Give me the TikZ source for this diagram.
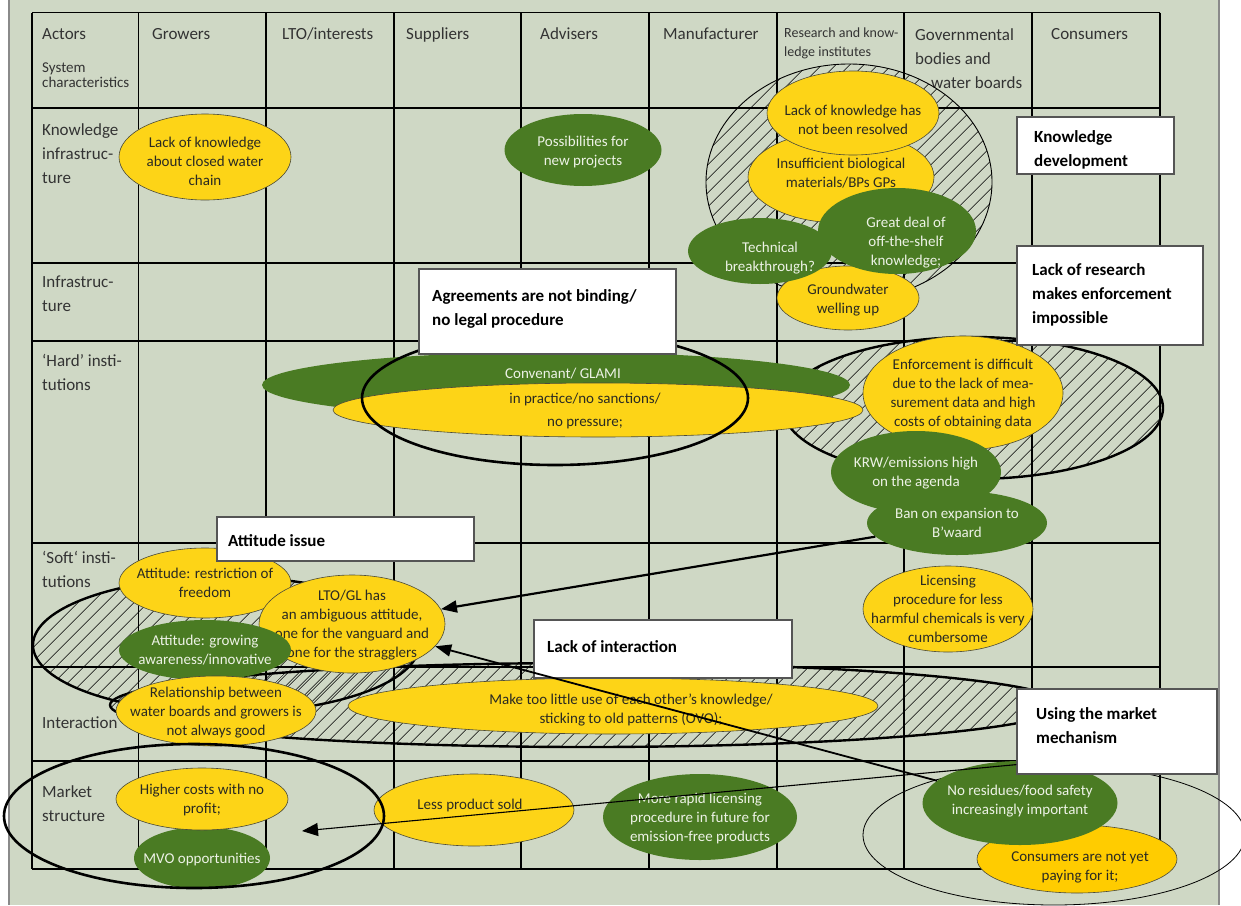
\documentclass[tikz,border=0pt]{standalone}
\usepackage{fontspec}
\setmainfont{Carlito}
\usetikzlibrary{shapes.geometric,patterns.meta,arrows.meta}
\definecolor{bgc}{HTML}{CFD8C5}
\definecolor{grnc}{HTML}{4A7B23}
\definecolor{yelc}{HTML}{FDD417}
\definecolor{yeltwo}{HTML}{FFCC00}
\definecolor{gtext}{HTML}{EDF2E6}
\definecolor{ytext}{HTML}{2A2A22}
\definecolor{hdrc}{HTML}{333333}
\definecolor{boxc}{HTML}{555555}
\definecolor{outc}{HTML}{4A4A3A}
\definecolor{bordc}{HTML}{8A8A8A}
\newcommand{\mlines}[1]{\begin{tabular}[t]{@{}l@{}}#1\end{tabular}}
\begin{document}
\begin{tikzpicture}[x=1pt,y=-1pt,
  hdr/.style={anchor=base west, inner sep=0pt, text=hdrc, font=\fontsize{17}{24}\selectfont},
  ell/.style={ellipse, inner sep=-30pt, align=center, text depth=0pt, font=\fontsize{15}{19}\selectfont},
  yel/.style={ell, fill=yelc, draw=outc, line width=0.6pt, text=ytext},
  grn/.style={ell, fill=grnc, text=gtext},
  ytxt/.style={inner sep=0pt, align=center, text depth=0pt, text=ytext, font=\fontsize{15}{19}\selectfont},
  gtxt/.style={inner sep=0pt, align=center, text depth=0pt, text=gtext, font=\fontsize{15}{19}\selectfont},
  hatchell/.style={ellipse, inner sep=0pt, pattern={Lines[angle=45,distance=10.5pt,line width=0.7pt]}, draw, line width=2.4pt},
  ring/.style={ellipse, inner sep=0pt, draw, line width=2.6pt},
  thinring/.style={ellipse, inner sep=0pt, draw, line width=0.8pt},
  boxshape/.style={rectangle, draw=boxc, line width=1.2pt, fill=white, inner sep=0pt},
  boxtext/.style={anchor=base west, inner sep=0pt, text=black, font=\bfseries\fontsize{17}{24}\selectfont},
  arrthick/.style={-{Triangle[length=16pt,width=12pt]}, line width=2.2pt},
  arrthin/.style={-{Triangle[length=16pt,width=13pt]}, line width=1.1pt},
  gridline/.style={line width=1.2pt}
  ]
\useasboundingbox (0,0) rectangle (1241,905);
\fill[white] (0,0) rectangle (1241,905);
\fill[bgc] (9,0) rectangle (1219,905);
\draw[bordc, line width=1.2pt] (9,0) -- (9,905) (1219,0) -- (1219,905);

% grid
\foreach \x in {32,138.5,266,394,521,649,777,904,1032,1160} \draw[gridline] (\x,12.5) -- (\x,869);
\foreach \y in {12.5,108,263,341,543,667,761,869} \draw[gridline] (32,\y) -- (1160,\y);

% headers
\node[hdr] (hActors) at (42,39) {Actors};
\node[hdr, font=\fontsize{15}{15}\selectfont] (hSys) at (42,72) {\mlines{System\\characteristics}};
\node[hdr] (hGrow) at (152,39) {Growers};
\node[hdr] (hLTO) at (282,39) {LTO/interests};
\node[hdr] (hSup) at (406,39) {Suppliers};
\node[hdr] (hAdv) at (540,39) {Advisers};
\node[hdr] (hMan) at (663,39) {Manufacturer};
\node[hdr, font=\fontsize{14}{19}\selectfont] (hRes) at (784,37) {\mlines{Research and know-\\ledge institutes}};
\node[hdr] (hGov) at (915,40) {\mlines{Governmental\\bodies and\\\hspace{16pt}water boards}};
\node[hdr] (hCon) at (1051,39) {Consumers};

% row labels
\node[hdr] (rKI) at (42,135) {\mlines{Knowledge\\infrastruc-\\ture}};
\node[hdr] (rInf) at (42,287) {\mlines{Infrastruc-\\ture}};
\node[hdr] (rHard) at (42,366) {\mlines{‘Hard’ insti-\\tutions}};
\node[hdr] (rSoft) at (42,563) {\mlines{‘Soft‘ insti-\\tutions}};
\node[hdr] (rInt) at (42,728) {Interaction};
\node[hdr] (rMkt) at (42,797) {\mlines{Market\\structure}};

% hatched and thin grouping ellipses
\node[hatchell, line width=0.9pt, minimum width=286pt, minimum height=236pt] (kdev) at (849,182) {};
\node[hatchell, minimum width=380pt, minimum height=142pt] (lres) at (973,408) {};
\node[hatchell, minimum width=386pt, minimum height=136pt] (att) at (226,645) {};
\node[hatchell, minimum width=954pt, minimum height=84pt] (intr) at (587,705) {};
\node[thinring, minimum width=382pt, minimum height=140pt] (consring) at (1054,835) {};

% knowledge infrastructure
\node[yel, minimum width=172pt, minimum height=86pt] (lkw) at (205,157) {};
\node[ytxt] (lkwt) at (205,161) {Lack of knowledge\\about closed water\\chain};
\node[grn, minimum width=157pt, minimum height=72pt] (poss) at (583,150) {};
\node[gtxt] (posst) at (583,151) {Possibilities for\\new projects};
\node[yel, minimum width=142pt, minimum height=64pt] (ground) at (848,298) {};
\node[ytxt] (groundt) at (848,299) {Groundwater\\welling up};
\node[yel, minimum width=186pt, minimum height=92pt] (insuf) at (841,177) {};
\node[ytxt] (insuft) at (841,173) {Insufficient biological\\materials/BPs GPs};
\node[yel, minimum width=172pt, minimum height=84pt] (lkhas) at (853,113) {};
\node[ytxt] (lkhast) at (853,120) {Lack of knowledge has\\not been resolved};
\node[grn, minimum width=158pt, minimum height=86pt] (great) at (897,231) {};
\node[gtxt] (greatt) at (906,241) {Great deal of\\off-the-shelf\\knowledge;};
\node[grn, minimum width=144pt, minimum height=66pt] (tech) at (760,251) {};
\node[gtxt] (techt) at (770,257) {Technical\\breakthrough?};

% hard institutions
\node[grn, minimum width=588pt, minimum height=66pt] (conv) at (556,385) {};
\node[gtxt] (convt) at (563,373) {Convenant/ GLAMI};
\node[yel, minimum width=530pt, minimum height=54pt] (prac) at (598,410) {};
\node[ytxt, font=\fontsize{15}{23}\selectfont] (pract) at (585,410) {in practice/no sanctions/\\no pressure;};
\node[yel, minimum width=200pt, minimum height=114pt] (enf) at (963,393) {Enforcement is difficult\\due to the lack of mea-\\surement data and high\\costs of obtaining data};
\node[grn, minimum width=170pt, minimum height=82pt] (krw) at (916,472) {KRW/emissions high\\on the agenda};
\node[grn, minimum width=180pt, minimum height=64pt] (ban) at (957,523) {Ban on expansion to\\B’waard};

% soft institutions / interaction
\node[yel, minimum width=172pt, minimum height=70pt] (restr) at (205,583) {Attitude: restriction of\\freedom};
\node[yel, minimum width=186pt, minimum height=98pt] (lto) at (352,624) {LTO/GL has\\an ambiguous attitude,\\one for the vanguard and\\one for the stragglers};
\node[grn, minimum width=172pt, minimum height=60pt] (grow) at (205,650) {Attitude: growing\\awareness/innovative};
\node[yel, minimum width=200pt, minimum height=70pt] (rel) at (216,711) {Relationship between\\water boards and growers is\\not always good};
\node[yel, minimum width=530pt, minimum height=56pt] (make) at (613,706) {};
\node[ytxt] (maket) at (631,709) {Make too little use of each other’s knowledge/\\sticking to old patterns (OVO);};
\node[yel, minimum width=170pt, minimum height=86pt] (lic) at (948,609) {Licensing\\procedure for less\\harmful chemicals is very\\cumbersome};

% market structure
\node[grn, minimum width=136pt, minimum height=62pt] (mvo) at (202,858) {MVO opportunities};
\node[yel, minimum width=172pt, minimum height=62pt] (higher) at (202,799) {Higher costs with no\\profit;};
\node[yel, minimum width=200pt, minimum height=72pt] (less) at (474,810) {};
\node[ytxt] (lesst) at (470,804) {Less product sold};
\node[grn, minimum width=194pt, minimum height=86pt] (rapid) at (700,817) {More rapid licensing\\procedure in future for\\emission-free products};
\node[yel, fill=yeltwo, minimum width=200pt, minimum height=68pt] (consy) at (1077,859) {};
\node[ytxt] (consyt) at (1080,866) {Consumers are not yet\\paying for it;};
\node[grn, minimum width=195pt, minimum height=84pt] (nores) at (1020,803) {};
\node[gtxt] (norest) at (1020,800) {No residues/food safety\\increasingly important};

% thick rings
\node[ring, minimum width=386pt, minimum height=134pt] (agr) at (555,398) {};
\node[ring, minimum width=380pt, minimum height=144pt] (mktring) at (194,816) {};

% boxes
\node[boxshape, minimum width=157pt, minimum height=57pt] (bkd) at (1095.5,145.5) {};
\node[boxtext] (bkdt) at (1034,142.5) {\mlines{Knowledge\\development}};
\node[boxshape, minimum width=186pt, minimum height=99pt] (blr) at (1110,295.5) {};
\node[boxtext] (blrt) at (1032,275) {\mlines{Lack of research\\makes enforcement\\impossible}};
\node[boxshape, minimum width=257pt, minimum height=85pt] (bagr) at (547.5,311.5) {};
\node[boxtext] (bagrt) at (432,301) {\mlines{Agreements are not binding/\\no legal procedure}};
\node[boxshape, minimum width=257pt, minimum height=44pt] (batt) at (345.5,539) {};
\node[boxtext] (battt) at (228,546.5) {Attitude issue};
\node[boxshape, minimum width=258pt, minimum height=58pt] (bint) at (663,649) {};
\node[boxtext] (bintt) at (547,652.5) {Lack of interaction};
\node[boxshape, minimum width=200pt, minimum height=85pt] (bmkt) at (1117,731.5) {};
\node[boxtext] (bmktt) at (1036,719) {\mlines{Using the market\\mechanism}};

% connectors
\coordinate (mtip) at (302,831);
\draw[arrthick] (ban) -- (lto);
\draw[arrthick, line width=1.8pt] (nores) -- (lto);
\draw[arrthin] ([yshift=10pt]bmkt.south west) -- (mtip);
\end{tikzpicture}
\end{document}
